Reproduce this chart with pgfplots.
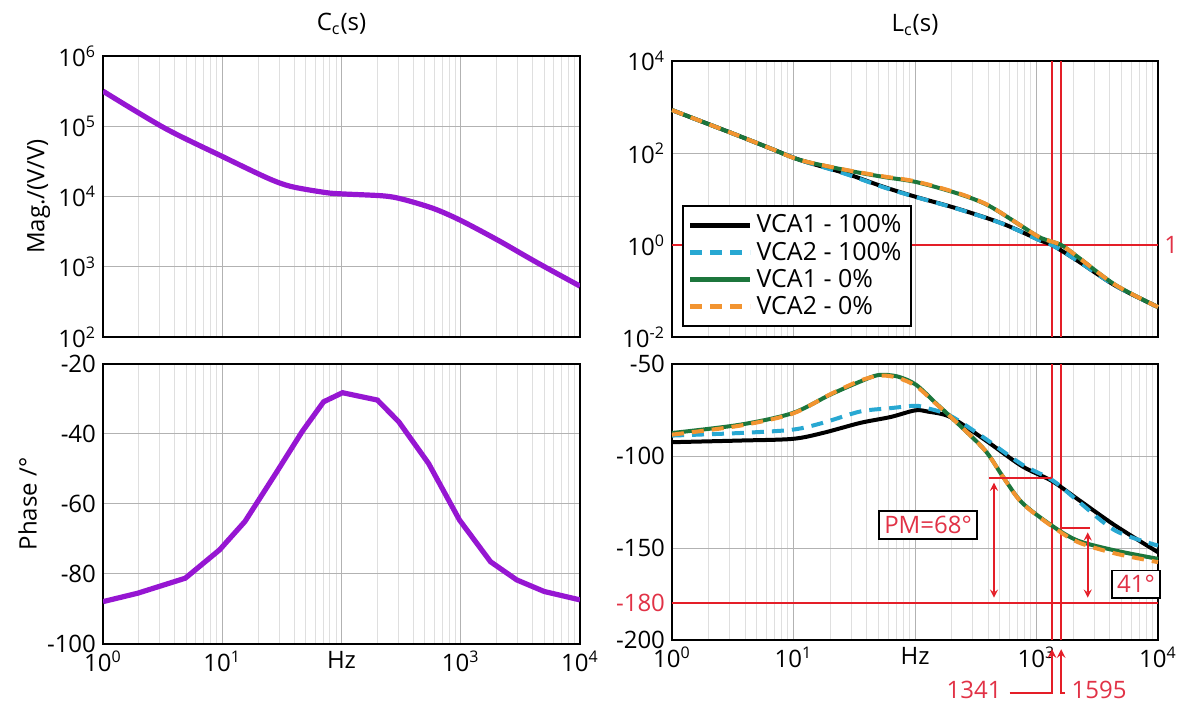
\documentclass[border=0pt]{standalone}
\usepackage{fontspec}
\setmainfont{Open Sans}
\usepackage{pgfplots}
\pgfplotsset{compat=1.18}
\definecolor{cpurple}{RGB}{150,22,210}
\definecolor{ccyan}{RGB}{40,168,210}
\definecolor{cgreen}{RGB}{28,118,60}
\definecolor{corange}{RGB}{242,148,48}
\definecolor{cred}{RGB}{228,30,40}
\definecolor{tred}{RGB}{225,50,70}
\begin{document}
\begin{tikzpicture}
\useasboundingbox (0pt,0pt) rectangle (589pt,-353pt);
\pgfplotsset{
  every axis/.append style={
    scale only axis,
    font=\fontsize{12}{13.5}\selectfont,
    xmode=log, xmin=1, xmax=1e4,
    axis line style={line width=1pt},
    tick style={draw=none},
    xmajorgrids, xminorgrids, ymajorgrids,
    major grid style={draw=gray!60, line width=0.5pt},
    minor grid style={draw=gray!25, line width=0.5pt},
    xtick={1,10,100,1000,10000},
    anchor=north west,
  },
  lastx/.style={xticklabels={10\textsuperscript{0},10\textsuperscript{1},Hz,10\textsuperscript{3},10\textsuperscript{4}}},
  nox/.style={xticklabels={}},
}
% ---------- Left top: Cc magnitude
\begin{axis}[at={(51.5pt,-28pt)}, width=238.5pt, height=140.5pt, nox,
  ymode=log, ymin=1e2, ymax=1e6, ytick={1e2,1e3,1e4,1e5,1e6},
  yticklabels={10\textsuperscript{2},10\textsuperscript{3},10\textsuperscript{4},10\textsuperscript{5},10\textsuperscript{6}},
  title={C\textsubscript{c}(s)}, title style={at={(axis description cs:0.5,1)},anchor=center,yshift=10pt},
  ylabel={Mag./(V/V)}, ylabel style={at={(axis description cs:-0.135,0.5)},anchor=center}]
\addplot[cpurple, line width=2.6pt, smooth] coordinates {
(1,3.16e5) (3.27,9.46e4) (10,3.72e4) (24,1.83e4) (37.7,1.39e4) (73,1.14e4) (100,1.09e4) (224,1.02e4) (324,9.16e3) (582,6.81e3) (977,4.65e3) (2040,2.40e3) (4270,1.17e3) (10000,5.3e2)};
\end{axis}
% ---------- Left bottom: Cc phase
\begin{axis}[at={(51.5pt,-182pt)}, width=238.5pt, height=140pt, lastx,
  ymin=-100, ymax=-20, ytick={-100,-80,-60,-40,-20}, yticklabels={-100,-80,-60,-40,-20},
  ylabel={Phase /°}, ylabel style={at={(axis description cs:-0.158,0.5)},anchor=center}]
\addplot[cpurple, line width=2.6pt] coordinates {
(1,-87.9) (1.95,-85.5) (4.9,-81.2) (9.5,-73.1) (15.5,-65) (28.2,-51.2) (46.8,-39.3) (70.8,-30.8) (102,-28.2) (200,-30.3) (302,-36.5) (537,-48.4) (977,-64.6) (1778,-76.5) (2951,-81.7) (5012,-85) (10000,-87.4)};
\end{axis}
% ---------- Right top: Lc magnitude
\begin{axis}[at={(336pt,-30.5pt)}, width=243pt, height=138pt, nox, clip=false,
  ymode=log, ymin=1e-2, ymax=1e4, ytick={1e-2,1,1e2,1e4},
  yticklabels={10\textsuperscript{-2},10\textsuperscript{0},10\textsuperscript{2},10\textsuperscript{4}},
  title={L\textsubscript{c}(s)}, title style={at={(axis description cs:0.5,1)},anchor=center,yshift=12pt},
  legend style={at={(axis description cs:0.02,0.035)}, anchor=south west, draw=black, line width=1pt, fill=white,
    font=\fontsize{12.5}{13}\selectfont, inner sep=2.5pt, row sep=-1pt},
  legend cell align=left,
  legend image code/.code={\draw[#1, line width=2.4pt] (0pt,0pt) -- (30pt,0pt);}]
\draw[cred, line width=0.9pt] (axis cs:1,1) -- (axis cs:1e4,1);
\draw[cred, line width=0.9pt] (axis cs:1341,1e-2) -- (axis cs:1341,1e4);
\draw[cred, line width=0.9pt] (axis cs:1595,1e-2) -- (axis cs:1595,1e4);
\node[tred, anchor=west, inner sep=0pt] at (axis cs:1e4,1) {\hspace{3pt}1};
\addplot[black, line width=2pt, smooth] coordinates {
(1,857) (3.16,266) (6.46,126) (11.4,70) (26.9,35.9) (55,18.4) (102,11.1) (224,6.17) (525,2.92) (1072,1.26) (1341,1.0) (2188,0.45) (4467,0.13) (10000,0.0447)};
\addlegendentry{VCA1 - 100\%}
\addplot[ccyan, line width=2pt, dash pattern=on 6pt off 4pt, smooth] coordinates {
(1,857) (3.16,266) (6.46,126) (11.4,70) (26.9,35) (55,18) (102,11.0) (224,6.1) (525,2.9) (1072,1.25) (1341,1.0) (2188,0.45) (4467,0.13) (10000,0.0447)};
\addlegendentry{VCA2 - 100\%}
\addplot[cgreen, line width=2pt, smooth] coordinates {
(1,857) (3.16,266) (6.46,126) (11.4,70) (26.9,42.4) (55,30.2) (102,23.4) (224,13.2) (398,7.33) (750,2.6) (1072,1.45) (1595,1.0) (2188,0.55) (4467,0.135) (10000,0.0447)};
\addlegendentry{VCA1 - 0\%}
\addplot[corange, line width=2pt, dash pattern=on 6pt off 4pt, smooth] coordinates {
(1,857) (3.16,266) (6.46,126) (11.4,70) (26.9,43) (55,31) (102,24) (224,13.5) (398,7.4) (750,2.6) (1072,1.45) (1595,1.0) (2188,0.55) (4467,0.135) (10000,0.0447)};
\addlegendentry{VCA2 - 0\%}
\end{axis}
% ---------- Right bottom: Lc phase
\begin{axis}[at={(336pt,-182pt)}, width=243pt, height=138pt, lastx, clip=false,
  ymin=-200, ymax=-50, ytick={-200,-150,-100,-50}, yticklabels={-200,-150,-100,-50}]
\draw[cred, line width=0.9pt] (axis cs:1,-180) -- (axis cs:1e4,-180);
\node[tred, anchor=east] at (axis cs:1,-180) {-180\hspace{3pt}};
\draw[cred, line width=0.9pt] (axis cs:1341,-200) -- (axis cs:1341,-50);
\draw[cred, line width=0.9pt] (axis cs:1595,-200) -- (axis cs:1595,-50);
\addplot[black, line width=2pt, smooth] coordinates {
(1,-92.5) (3.63,-91.6) (9.8,-90.7) (17.4,-87.5) (35.5,-82) (63,-78.8) (100,-75.2) (126,-75.8) (195,-78.8) (372,-91) (759,-105.5) (1341,-113.6) (2188,-123.5) (4467,-137.9) (10000,-152.3)};
\addplot[ccyan, line width=2pt, dash pattern=on 6pt off 4pt, smooth] coordinates {
(1,-88.9) (3.63,-87.5) (9.8,-85.7) (17.4,-82) (35.5,-75.8) (63,-74) (100,-72.7) (126,-74) (195,-78.1) (372,-90.2) (759,-104.6) (1341,-113) (2188,-124.4) (4467,-140.6) (10000,-148.7)};
\addplot[cgreen, line width=2pt, smooth] coordinates {
(1,-87.5) (3.63,-83) (9.8,-76.7) (20,-66.7) (35.5,-59.5) (50,-56) (72,-56.8) (102,-61.3) (148,-71.2) (195,-78.5) (372,-96.5) (525,-110.9) (759,-125.3) (1341,-137.9) (2188,-146) (4467,-151.4) (10000,-155.9)};
\addplot[corange, line width=2pt, dash pattern=on 6pt off 4pt, smooth] coordinates {
(1,-88.4) (3.63,-83.5) (9.8,-77) (20,-66.5) (35.5,-59) (52,-56.3) (72,-57.5) (102,-62) (148,-71.5) (195,-78.5) (372,-96.5) (525,-111) (759,-125.5) (1341,-138.2) (2188,-146.8) (4467,-153) (10000,-157.7)};
% PM annotations
\draw[cred, line width=0.9pt] (axis cs:406,-112) -- (axis cs:1341,-112);
\draw[cred, line width=0.8pt, <->, >=stealth] (axis cs:447,-114.5) -- (axis cs:447,-177);
\draw[cred, line width=0.9pt] (axis cs:1595,-139) -- (axis cs:2750,-139);
\draw[cred, line width=0.8pt, <->, >=stealth] (axis cs:2640,-141.5) -- (axis cs:2640,-177);
\node[draw=black, line width=0.8pt, fill=white, text=tred, inner sep=2.5pt] at (axis cs:128,-137.5) {PM=68°};
\node[draw=black, line width=0.8pt, fill=white, text=tred, inner sep=2.5pt] at (axis cs:6600,-169.6) {41°};
% frequency markers below
\draw[cred, line width=0.9pt, ->, >=stealth] (axis cs:600,-229) -- (axis cs:1341,-229) -- (axis cs:1341,-205);
\draw[cred, line width=0.9pt, ->, >=stealth] (axis cs:1720,-229) -- (axis cs:1595,-229) -- (axis cs:1595,-205);
\node[tred, anchor=east] at (axis cs:590,-227) {1341};
\node[tred, anchor=west] at (axis cs:1700,-227) {1595};
\end{axis}
\end{tikzpicture}
\end{document}
